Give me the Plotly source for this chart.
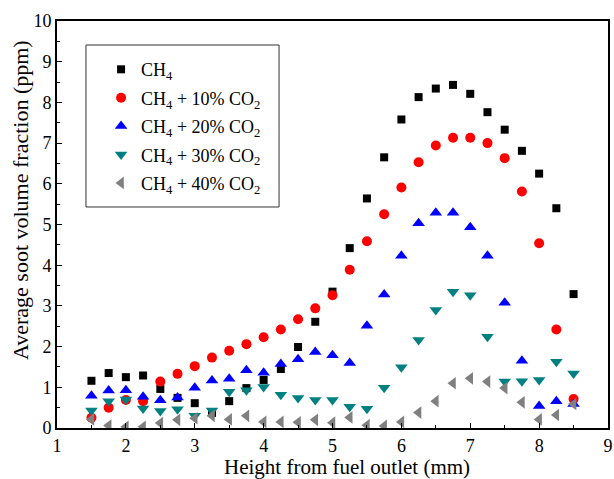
import plotly.graph_objects as go

x_mm = [1.5, 1.75, 2.0, 2.25, 2.5, 2.75, 3.0, 3.25, 3.5, 3.75, 4.0, 4.25, 4.5, 4.75, 5.0,
        5.25, 5.5, 5.75, 6.0, 6.25, 6.5, 6.75, 7.0, 7.25, 7.5, 7.75, 8.0, 8.25, 8.5]

ch4 = [1.16, 1.35, 1.25, 1.29, 0.96, 0.74, 0.61, 0.37, 0.66, 0.98, 1.18, 1.45, 1.99, 2.61, 3.35,
       4.42, 5.64, 6.65, 7.58, 8.13, 8.34, 8.43, 8.21, 7.76, 7.33, 6.81, 6.25, 5.40, 3.29]
co2_10 = [0.25, 0.50, 0.69, 0.66, 1.14, 1.33, 1.52, 1.73, 1.90, 2.06, 2.23, 2.42, 2.67, 2.94, 3.26,
          3.89, 4.59, 5.25, 5.91, 6.53, 6.94, 7.13, 7.13, 7.00, 6.63, 5.81, 4.54, 2.42, 0.71]
co2_20 = [0.79, 0.92, 0.93, 0.77, 0.68, 0.75, 0.99, 1.17, 1.21, 1.42, 1.36, 1.57, 1.69, 1.87, 1.79,
          1.60, 2.51, 3.28, 4.23, 5.03, 5.29, 5.29, 4.93, 4.23, 3.08, 1.65, 0.54, 0.66, 0.59]
co2_30 = [0.43, 0.66, 0.70, 0.48, 0.42, 0.46, 0.30, 0.43, 0.89, 0.93, 1.01, 0.82, 0.74, 0.69, 0.69,
          0.52, 0.47, 0.99, 1.49, 2.16, 2.90, 3.35, 3.26, 2.24, 1.14, 1.15, 1.18, 1.63, 1.34]
co2_40 = [0.21, 0.06, 0.03, 0.03, 0.12, 0.20, 0.24, 0.30, 0.21, 0.30, 0.15, 0.15, 0.14, 0.20, 0.13,
          0.26, 0.07, 0.05, 0.15, 0.38, 0.66, 1.10, 1.22, 1.14, 0.98, 0.63, 0.21, 0.32, 0.59]

names = ["CH<sub>4</sub>",
         "CH<sub>4</sub> + 10% CO<sub>2</sub>",
         "CH<sub>4</sub> + 20% CO<sub>2</sub>",
         "CH<sub>4</sub> + 30% CO<sub>2</sub>",
         "CH<sub>4</sub> + 40% CO<sub>2</sub>"]
x_title = "Height from fuel outlet (mm)"
y_title = "Average soot volume fraction (ppm)"

series = [ch4, co2_10, co2_20, co2_30, co2_40]
symbols = ["square", "circle", "triangle-up", "triangle-down", "triangle-left"]
colors = ["#000000", "#ff0000", "#0000ff", "#008080", "#808080"]
sizes = [8, 10, 11, 11, 11]

fig = go.Figure()
for i, (nm, ys, sym, col, sz) in enumerate(zip(names, series, symbols, colors, sizes)):
    fig.add_trace(go.Scatter(x=x_mm, y=ys, mode="markers", name=nm, legendgroup=f"g{i}",
                             marker=dict(symbol=sym, color=col, size=sz, line=dict(width=0))))

ff = "Liberation Serif"

# legend frame
fig.add_shape(type="rect", xref="paper", yref="paper",
              x0=0.0526, x1=0.403, y0=0.543, y1=0.941,
              line=dict(color="#333333", width=1), fillcolor="white", layer="below")

# axis titles
fig.add_annotation(text=x_title, xref="paper", yref="paper", x=0.526, y=-0.096,
                   xanchor="center", yanchor="middle", showarrow=False,
                   font=dict(family=ff, size=21, color="black"))
fig.add_annotation(text=y_title, xref="paper", yref="paper", x=-0.0672, y=0.560,
                   xanchor="center", yanchor="middle", showarrow=False, textangle=-90,
                   font=dict(family=ff, size=22, color="black"))

fig.update_layout(
    width=614, height=479,
    margin=dict(l=57, r=6, t=21, b=51),
    plot_bgcolor="white", paper_bgcolor="white",
    font=dict(family=ff, size=16, color="black"),
    showlegend=True,
    legend=dict(x=0.080, y=0.926, xanchor="left", yanchor="top",
                borderwidth=0, bgcolor="rgba(0,0,0,0)",
                font=dict(family=ff, size=18, color="black"),
                itemwidth=30, tracegroupgap=2),
    xaxis=dict(range=[1, 9], tickmode="linear", tick0=1, dtick=1, automargin=False,
               showline=True, linecolor="black", linewidth=2, mirror=True,
               ticks="inside", ticklen=5, tickwidth=1, tickcolor="black",
               minor=dict(ticks="inside", ticklen=3, dtick=0.5, tickcolor="black"),
               showgrid=False, zeroline=False,
               tickfont=dict(family=ff, size=18, color="black")),
    yaxis=dict(range=[0, 10], tickmode="linear", tick0=0, dtick=1, automargin=False,
               showline=True, linecolor="black", linewidth=2, mirror=True,
               ticks="inside", ticklen=5, tickwidth=1, tickcolor="black",
               minor=dict(ticks="inside", ticklen=3, dtick=0.5, tickcolor="black"),
               showgrid=False, zeroline=False,
               tickfont=dict(family=ff, size=18, color="black")),
)

fig.write_html("out.html", config={"displayModeBar": False},
               post_script="document.body.style.margin='0';")
